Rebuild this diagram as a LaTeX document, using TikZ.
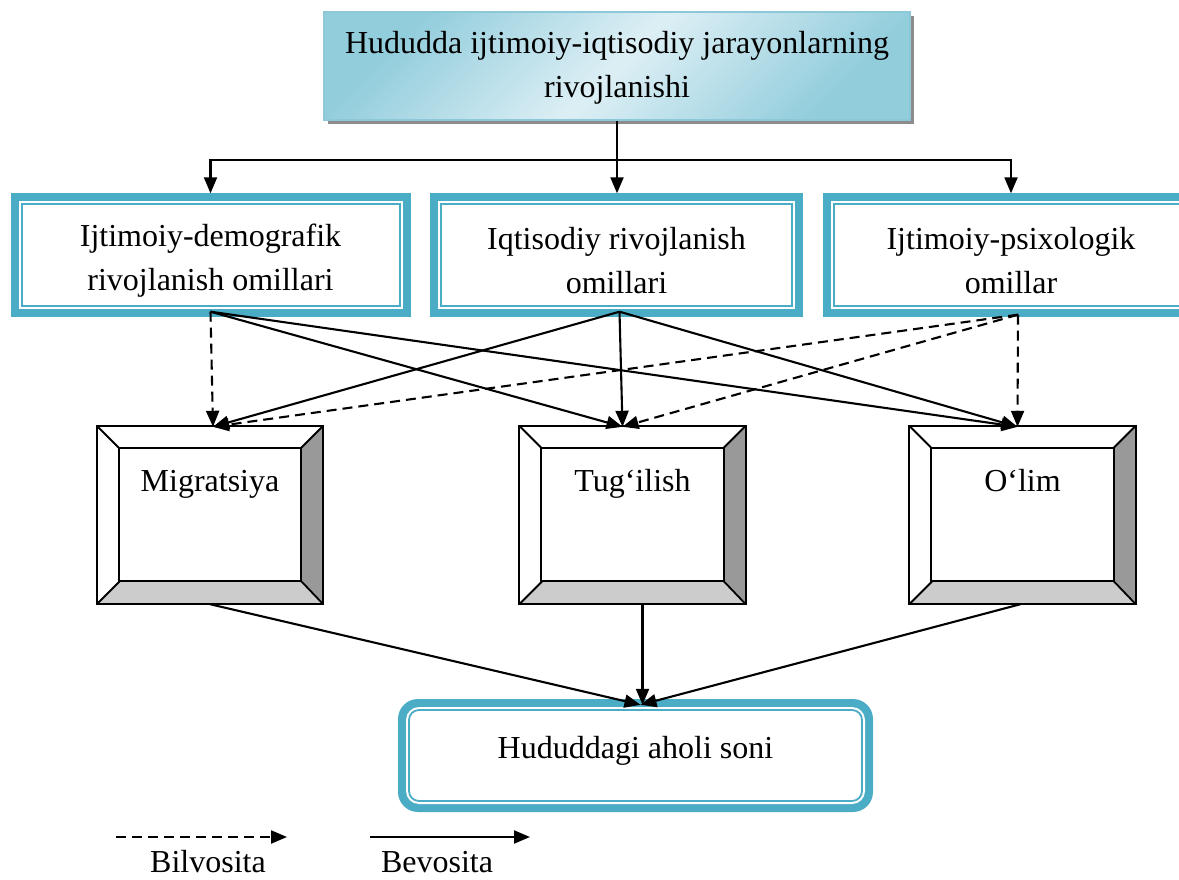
\documentclass[tikz,border=0pt]{standalone}
\usepackage{fontspec}
\setmainfont{Liberation Serif}
\usetikzlibrary{arrows.meta,calc,shadows}
\definecolor{teal5}{HTML}{4BACC6}
\definecolor{gl}{HTML}{DDEFF5}
\definecolor{gd}{HTML}{92CDDC}
\definecolor{topborder}{HTML}{8CC8D8}
\definecolor{faceR}{HTML}{999999}
\definecolor{faceB}{HTML}{CCCCCC}
\newcommand\bevelbox[1]{%
  \coordinate (#1nwi) at ($(#1.north west)+(22pt,-22pt)$);
  \coordinate (#1nei) at ($(#1.north east)+(-22pt,-22pt)$);
  \coordinate (#1sei) at ($(#1.south east)+(-22pt,23pt)$);
  \coordinate (#1swi) at ($(#1.south west)+(23pt,23pt)$);
  \fill[faceR] (#1.north east) -- (#1.south east) -- (#1sei) -- (#1nei) -- cycle;
  \fill[faceB] (#1.south west) -- (#1.south east) -- (#1sei) -- (#1swi) -- cycle;
  \draw[bevline] (#1.north west) rectangle (#1.south east);
  \draw[bevline] (#1nwi) rectangle (#1sei);
  \draw[bevline] (#1.north west) -- (#1nwi) (#1.north east) -- (#1nei)
     (#1.south east) -- (#1sei) (#1.south west) -- (#1swi);
}
\newcommand\topstrut{\rule{0pt}{33pt}}
\begin{document}
\begin{tikzpicture}[x=1pt,y=-1pt,
  font=\fontsize{32}{44}\selectfont,
  conn/.style={line width=2.1pt,-{Triangle[length=16pt,width=13pt]}},
  ind/.style={conn,dash pattern=on 10pt off 6pt},
  bevline/.style={line width=1.8pt,line join=miter},
  topbox/.style={minimum width=586pt,minimum height=108pt,inner sep=0pt,align=center,
    top color=gd,bottom color=gd,middle color=gl,shading angle=45,
    draw=topborder,line width=1.2pt,
    drop shadow={shadow xshift=4pt,shadow yshift=-4pt,fill=black!45,opacity=1}},
  midbox/.style={minimum width=#1,minimum height=123pt,inner sep=0pt,align=center,
    fill=teal5,path picture={
      \fill[white] ([shift={(8pt,-8pt)}]path picture bounding box.north west)
        rectangle ([shift={(-8pt,8pt)}]path picture bounding box.south east);
      \draw[teal5,line width=2pt] ([shift={(11pt,-11pt)}]path picture bounding box.north west)
        rectangle ([shift={(-11pt,11pt)}]path picture bounding box.south east);}},
  bevnode/.style={minimum width=226pt,minimum height=178pt,inner sep=0pt,
    text height=22pt,text depth=70pt},
  resbox/.style={minimum width=475pt,minimum height=113pt,inner sep=0pt,
    text height=22pt,text depth=16pt,
    fill=teal5,rounded corners=20pt,path picture={
      \fill[white,rounded corners=13pt] ([shift={(8pt,-8pt)}]path picture bounding box.north west)
        rectangle ([shift={(-8pt,8pt)}]path picture bounding box.south east);
      \draw[teal5,line width=1.8pt,rounded corners=10pt] ([shift={(11pt,-11pt)}]path picture bounding box.north west)
        rectangle ([shift={(-11pt,11pt)}]path picture bounding box.south east);}},
  legtext/.style={anchor=base,inner sep=0pt,text depth=0pt}
]
\useasboundingbox (0,0) rectangle (1179,880);
\clip (0,0) rectangle (1179,880);

% top box
\node[topbox] (top) at (617,66) {\rule{0pt}{26pt}Hududda ijtimoiy-iqtisodiy jarayonlarning\\rivojlanishi};

% factor boxes
\node[midbox=400pt] (b1) at (210.5,255) {\topstrut Ijtimoiy-demografik\\rivojlanish omillari};
\node[midbox=373pt] (b2) at (616.5,255) {\topstrut Iqtisodiy rivojlanish\\omillari};
\node[midbox=376pt] (b3) at (1011,255) {\topstrut Ijtimoiy-psixologik\\omillar};

% process boxes
\node[bevnode] (mig) at (210,515) {Migratsiya};
\node[bevnode] (tug) at (632.5,515) {Tug‘ilish};
\node[bevnode] (olim) at (1022.5,515) {O‘lim};
\bevelbox{mig}
\bevelbox{tug}
\bevelbox{olim}

% result box
\node[resbox] (hud) at (635.5,755.5) {Hududdagi aholi soni};

% top connectors
\coordinate (j) at (617,160);
\draw[line width=2.1pt] (top.south) -- (j);
\draw[conn] (j) -| (b1.north);
\draw[conn] (j) -- (j |- b2.north);
\draw[conn] (j) -| (b3.north);

% start / end points
\coordinate (s1) at ([yshift=5pt]b1.south);
\coordinate (s2) at ([xshift=3pt,yshift=5pt]b2.south);
\coordinate (s3) at ([xshift=7pt,yshift=2pt]b3.south);
\coordinate (emig) at ([xshift=3pt,yshift=-1pt]mig.north);
\coordinate (etug) at ([xshift=-10pt,yshift=-1pt]tug.north);
\coordinate (eolim) at ([xshift=-5pt,yshift=-1pt]olim.north);

\draw[ind] (s1) -- (emig);
\draw[conn] (s1) -- (etug);
\draw[conn] (s1) -- (eolim);
\draw[conn] (s2) -- (emig);
\draw[conn] (s2) -- (etug);
\draw[conn] (s2) -- (eolim);
\draw[ind] (s3) -- (emig);
\draw[ind] (s3) -- (etug);
\draw[ind] (s3) -- (eolim);

% bottom connectors
\coordinate (eh) at ([xshift=5pt,yshift=-6pt]hud.north);
\draw[conn] (mig.south) -- (eh);
\draw[conn] ([xshift=10pt]tug.south) -- ([xshift=10pt] tug.south |- eh);
\draw[conn] ([xshift=-2pt]olim.south) -- (eh);

% legend
\coordinate (l1a) at (116,837);
\coordinate (l1b) at (287,837);
\coordinate (l2a) at (370,837);
\coordinate (l2b) at (530,837);
\draw[ind] (l1a) -- (l1b);
\draw[conn] (l2a) -- (l2b);
\node[legtext] (lt1) at (208,872) {Bilvosita};
\node[legtext] (lt2) at (437,872) {Bevosita};
\end{tikzpicture}
\end{document}
